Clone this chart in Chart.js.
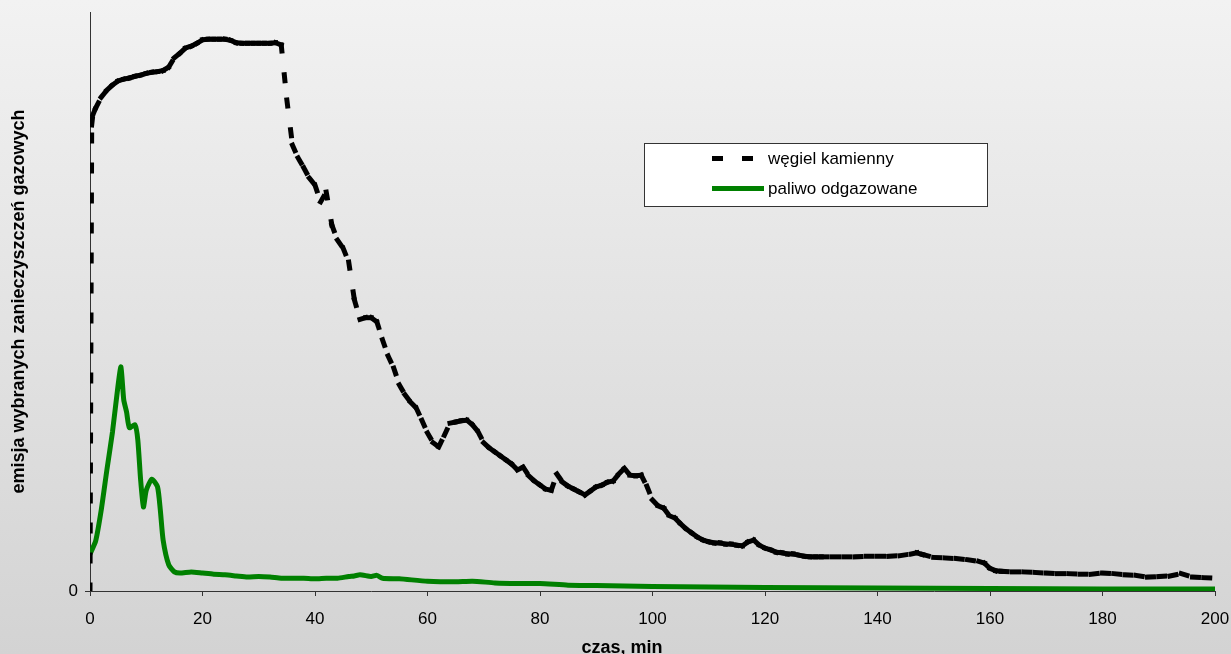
<!DOCTYPE html>
<html>
<head>
<meta charset="utf-8">
<script src="https://cdn.jsdelivr.net/npm/chart.js@4/dist/chart.umd.min.js"></script>
<style>
  html, body { margin: 0; padding: 0; background: #e4e4e4; }
  #wrap { width: 1231px; height: 654px; position: relative; }
</style>
</head>
<body>
<div id="wrap"><canvas id="c"></canvas></div>
<script>
// ---- data ----
const xTicks = [0, 20, 40, 60, 80, 100, 120, 140, 160, 180, 200];
const yTicks = [0];

const seriesNames = ['węgiel kamienny', 'paliwo odgazowane'];

const czasWegiel = [0, 0.3, 0.5, 1, 2, 3, 4, 5, 6, 7, 8, 9, 10, 11, 12, 13, 14, 15, 16, 17, 18, 19,
  20, 21, 22, 23, 24, 25, 26, 27, 28, 29, 30, 31, 32, 33, 34, 35, 36, 37, 38, 39,
  40, 41, 42, 43, 44, 45, 46, 47, 48, 49, 50, 51, 52, 53, 54, 55, 56, 57, 58, 59,
  60, 61, 62, 63, 64, 65, 66, 67, 68, 69, 70, 71, 72, 73, 74, 75, 76, 77, 78, 79,
  80, 81, 82, 83, 84, 85, 86, 87, 88, 89, 90, 91, 92, 93, 94, 95, 96, 97, 98, 99,
  100, 101, 102, 103, 104, 105, 106, 107, 108, 109, 110, 111, 112, 113, 114, 115, 116, 117, 118, 119,
  120, 121, 122, 123, 124, 125, 126, 127, 128, 129, 130, 132, 134, 136, 138, 140, 142, 144, 146, 147,
  148, 150, 152, 154, 156, 158, 159, 160, 161, 162, 164, 166, 168, 170, 172, 174, 176, 178,
  180, 182, 184, 186, 188, 190, 192, 194, 196, 198, 200];

const wegiel = [0, 80.5, 82.2, 83.4, 85.3, 86.5, 87.4, 88.1, 88.4, 88.6, 88.9, 89.1, 89.4, 89.6, 89.7, 89.9, 90.5, 92.1, 92.9, 93.8, 94.1, 94.6,
  95.2, 95.3, 95.3, 95.3, 95.3, 95.1, 94.7, 94.6, 94.6, 94.6, 94.6, 94.6, 94.6, 94.7, 94.3, 84.8, 77.0, 74.8, 73.1, 71.3,
  70.1, 67.2, 68.9, 63.2, 60.6, 59.2, 56.8, 50.3, 46.9, 47.2, 47.2, 46.5, 43.4, 40.6, 38.5, 35.6, 33.9, 32.6, 31.6, 29.5,
  27.3, 25.6, 24.9, 26.9, 29.0, 29.2, 29.4, 29.5, 28.7, 27.5, 25.6, 24.7, 24.0, 23.3, 22.6, 21.9, 20.9, 21.4, 19.9, 19.0,
  18.3, 17.6, 17.4, 20.2, 18.8, 18.1, 17.6, 17.1, 16.6, 17.3, 18.0, 18.3, 18.8, 19.0, 20.2, 21.2, 20.0, 19.9, 20.0, 18.1,
  15.7, 14.7, 14.3, 13.0, 12.6, 11.6, 10.7, 10.0, 9.3, 8.8, 8.5, 8.3, 8.3, 8.1, 8.1, 7.9, 7.8, 8.5, 8.8, 7.9,
  7.4, 7.1, 6.7, 6.6, 6.4, 6.4, 6.2, 6.0, 5.9, 5.9, 5.9, 5.9, 5.9, 5.9, 6.0, 6.0, 6.0, 6.1, 6.4, 6.6,
  6.3, 5.8, 5.7, 5.6, 5.4, 5.1, 4.8, 3.9, 3.5, 3.4, 3.3, 3.3, 3.2, 3.1, 3.0, 3.0, 2.9, 2.9,
  3.1, 3.0, 2.8, 2.7, 2.4, 2.5, 2.6, 3.0, 2.4, 2.3, 2.2];

const czasPaliwo = [0, 1, 2, 3, 4, 5, 5.5, 6, 6.5, 7, 8, 8.5, 9, 9.5, 10, 11, 12, 12.5, 13, 14, 15, 16, 18,
  20, 22, 24, 26, 28, 30, 32, 34, 36, 38, 40, 42, 44, 46, 47, 48, 50, 51, 52, 55,
  60, 65, 68, 72, 76, 80, 85, 90, 100, 110, 120, 140, 160, 180, 200];

const paliwo = [6.4, 8.6, 14.0, 20.9, 27.5, 35.6, 38.7, 33.0, 30.9, 28.2, 28.7, 26.1, 19.2, 14.5, 17.4, 19.3, 18.0, 14.0, 8.8, 4.5, 3.3, 3.1, 3.3,
  3.1, 2.9, 2.8, 2.6, 2.4, 2.5, 2.4, 2.2, 2.2, 2.2, 2.1, 2.2, 2.2, 2.5, 2.6, 2.8, 2.5, 2.7, 2.2, 2.1,
  1.7, 1.6, 1.7, 1.4, 1.3, 1.3, 1.0, 0.95, 0.78, 0.7, 0.6, 0.5, 0.43, 0.35, 0.35];

const xTitle = 'czas, min';
const yTitle = 'emisja wybranych zanieczyszczeń gazowych';

// ---- helpers ----
const toPoints = (xs, ys) => xs.map((x, i) => ({ x: x, y: ys[i] }));
const FONT = 'Liberation Sans, Arial, sans-serif';

const bgPlugin = {
  id: 'bg',
  beforeDraw(chart) {
    const { ctx, width, height } = chart;
    const g = ctx.createLinearGradient(0, 0, 0, height);
    g.addColorStop(0, '#f2f2f2');
    g.addColorStop(1, '#d3d3d3');
    ctx.save();
    ctx.fillStyle = g;
    ctx.fillRect(0, 0, width, height);
    ctx.restore();
  }
};

const legendPlugin = {
  id: 'boxLegend',
  afterDraw(chart) {
    const ctx = chart.ctx;
    const bx = 644, by = 143, bw = 343, bh = 63;
    ctx.save();
    ctx.fillStyle = '#ffffff';
    ctx.fillRect(bx, by, bw, bh);
    ctx.strokeStyle = '#333333';
    ctx.lineWidth = 1;
    ctx.strokeRect(bx + 0.5, by + 0.5, bw, bh);
    // black dashed sample
    ctx.fillStyle = '#000000';
    ctx.fillRect(712, 156, 11, 5);
    ctx.fillRect(742, 156, 11, 5);
    // green solid sample
    ctx.fillStyle = '#008000';
    ctx.fillRect(712, 186, 52, 5);
    ctx.fillStyle = '#000000';
    ctx.font = '17px ' + FONT;
    ctx.textBaseline = 'middle';
    ctx.textAlign = 'left';
    ctx.fillText(seriesNames[0], 768, 159);
    ctx.fillText(seriesNames[1], 768, 189);
    // x axis title (sits left of centre in the reference)
    ctx.font = 'bold 18px ' + FONT;
    ctx.textAlign = 'center';
    ctx.textBaseline = 'alphabetic';
    ctx.fillText(xTitle, 622, 653);
    ctx.restore();
  }
};

new Chart(document.getElementById('c'), {
  type: 'line',
  data: {
    datasets: [
      {
        label: seriesNames[0],
        data: toPoints(czasWegiel, wegiel),
        borderColor: '#000000',
        borderWidth: 5,
        borderDash: [6, 24],
        borderCapStyle: 'square',
        pointRadius: 0,
        tension: 0,
        segment: {
          borderDashOffset: ctx => (ctx.p0DataIndex % 2) * 0.001
        }
      },
      {
        label: seriesNames[1],
        data: toPoints(czasPaliwo, paliwo),
        borderColor: '#008000',
        borderWidth: 5,
        borderJoinStyle: 'round',
        borderCapStyle: 'round',
        pointRadius: 0,
        tension: 0.2
      }
    ]
  },
  options: {
    responsive: true,
    maintainAspectRatio: false,
    animation: false,
    layout: { padding: { top: 12, right: 16, left: 0, bottom: 0 } },
    plugins: {
      legend: { display: false },
      tooltip: { enabled: false }
    },
    scales: {
      x: {
        type: 'linear',
        min: 0,
        max: 200,
        afterBuildTicks: s => { s.ticks = xTicks.map(v => ({ value: v })); },
        afterFit: s => { s.height = 63; s.paddingLeft = 0; s.paddingRight = 0; },
        grid: { drawOnChartArea: false, drawTicks: true, tickLength: 5, color: '#333333' },
        border: { display: true, color: '#333333', width: 1 },
        ticks: { color: '#000000', padding: 13, maxRotation: 0, font: { family: FONT, size: 17 } },
        title: { display: false }
      },
      y: {
        type: 'linear',
        min: 0,
        max: 100,
        afterBuildTicks: s => { s.ticks = yTicks.map(v => ({ value: v })); },
        afterFit: s => { s.width = 90; s.paddingTop = 0; s.paddingBottom = 0; },
        grid: { drawOnChartArea: false, drawTicks: true, tickLength: 5, color: '#333333' },
        border: { display: true, color: '#333333', width: 1 },
        ticks: { color: '#000000', padding: 7, font: { family: FONT, size: 17 } },
        title: {
          display: true, text: yTitle, color: '#000000',
          font: { family: FONT, size: 18, weight: 'bold' },
          padding: { top: 8, bottom: 0 }
        }
      }
    }
  },
  plugins: [bgPlugin, legendPlugin]
});
</script>
</body>
</html>
